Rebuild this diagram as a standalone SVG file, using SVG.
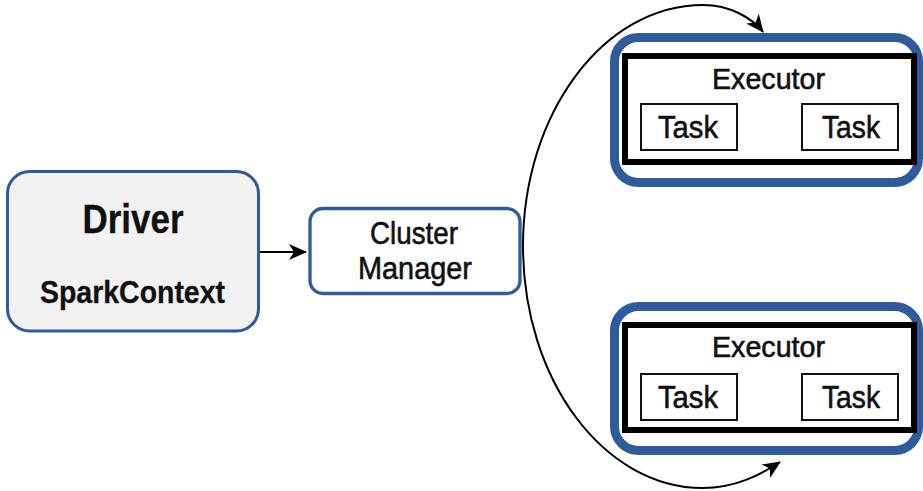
<svg xmlns="http://www.w3.org/2000/svg" width="923" height="491" viewBox="0 0 923 491">
  <style>
    .lbl { font-family: "Liberation Sans", Arial, sans-serif; fill: #111; text-anchor: middle; stroke: #111; stroke-width: 0.6; }
    .b { font-weight: bold; stroke-width: 0.3; }
    .blue { fill: #ffffff; stroke: #2f5b9c; }
    .task { fill: #ffffff; stroke: #111; stroke-width: 2; }
    .inner { fill: #ffffff; stroke: #000; stroke-width: 6; }
    .conn { fill: none; stroke: #000; stroke-width: 2; }
  </style>
  <defs>
    <marker id="arrow" viewBox="0 0 18 16" refX="17" refY="8" markerWidth="18" markerHeight="16" markerUnits="userSpaceOnUse" orient="auto">
      <path d="M0,0 L18,8 L0,16 L5,8 Z" fill="#000"/>
    </marker>
  </defs>

  <g id="driver">
    <rect x="7.5" y="171.5" width="251" height="159.5" rx="22" fill="#f2f2f2" stroke="#2f5b9c" stroke-width="3"/>
    <text class="lbl b" x="133" y="233" font-size="41" textLength="101" lengthAdjust="spacingAndGlyphs">Driver</text>
    <text class="lbl b" x="132.5" y="303" font-size="31" textLength="185" lengthAdjust="spacingAndGlyphs">SparkContext</text>
  </g>

  <g id="cluster-manager">
    <rect class="blue" x="310" y="208.5" width="210" height="85" rx="13" stroke-width="3.3"/>
    <text class="lbl" x="414" y="244" font-size="31" textLength="88" lengthAdjust="spacingAndGlyphs">Cluster</text>
    <text class="lbl" x="415" y="279" font-size="31" textLength="114" lengthAdjust="spacingAndGlyphs">Manager</text>
  </g>

  <g id="executor-1">
    <rect class="blue" x="614.5" y="37.5" width="304" height="145" rx="24" stroke-width="9"/>
    <rect class="inner" x="625" y="56" width="289" height="106"/>
    <text class="lbl" x="768.5" y="89" font-size="30" textLength="113" lengthAdjust="spacingAndGlyphs">Executor</text>
    <g id="task-1a">
      <rect class="task" x="641" y="104" width="96" height="46"/>
      <text class="lbl" x="688" y="137.5" font-size="32" textLength="60" lengthAdjust="spacingAndGlyphs">Task</text>
    </g>
    <g id="task-1b">
      <rect class="task" x="802" y="104" width="96" height="46"/>
      <text class="lbl" x="851" y="137.5" font-size="32" textLength="58" lengthAdjust="spacingAndGlyphs">Task</text>
    </g>
  </g>

  <g id="executor-2">
    <rect class="blue" x="614.5" y="306.5" width="304" height="144" rx="24" stroke-width="9"/>
    <rect class="inner" x="625" y="325" width="289" height="105"/>
    <text class="lbl" x="768.5" y="357" font-size="30" textLength="113" lengthAdjust="spacingAndGlyphs">Executor</text>
    <g id="task-2a">
      <rect class="task" x="641" y="374" width="96" height="46"/>
      <text class="lbl" x="688" y="407.5" font-size="32" textLength="60" lengthAdjust="spacingAndGlyphs">Task</text>
    </g>
    <g id="task-2b">
      <rect class="task" x="802" y="374" width="96" height="46"/>
      <text class="lbl" x="851" y="407.5" font-size="32" textLength="58" lengthAdjust="spacingAndGlyphs">Task</text>
    </g>
  </g>

  <g id="connectors">
    <path class="conn" d="M260,252 L306,252" marker-end="url(#arrow)"/>
    <path class="conn" d="M523,246 C523,113 604,5 703,5 C730,5 752,18 763,32" marker-end="url(#arrow)"/>
    <path class="conn" d="M523,246 C523,380 604,488 703,488 C735,488 760,475 780,462" marker-end="url(#arrow)"/>
  </g>
</svg>
